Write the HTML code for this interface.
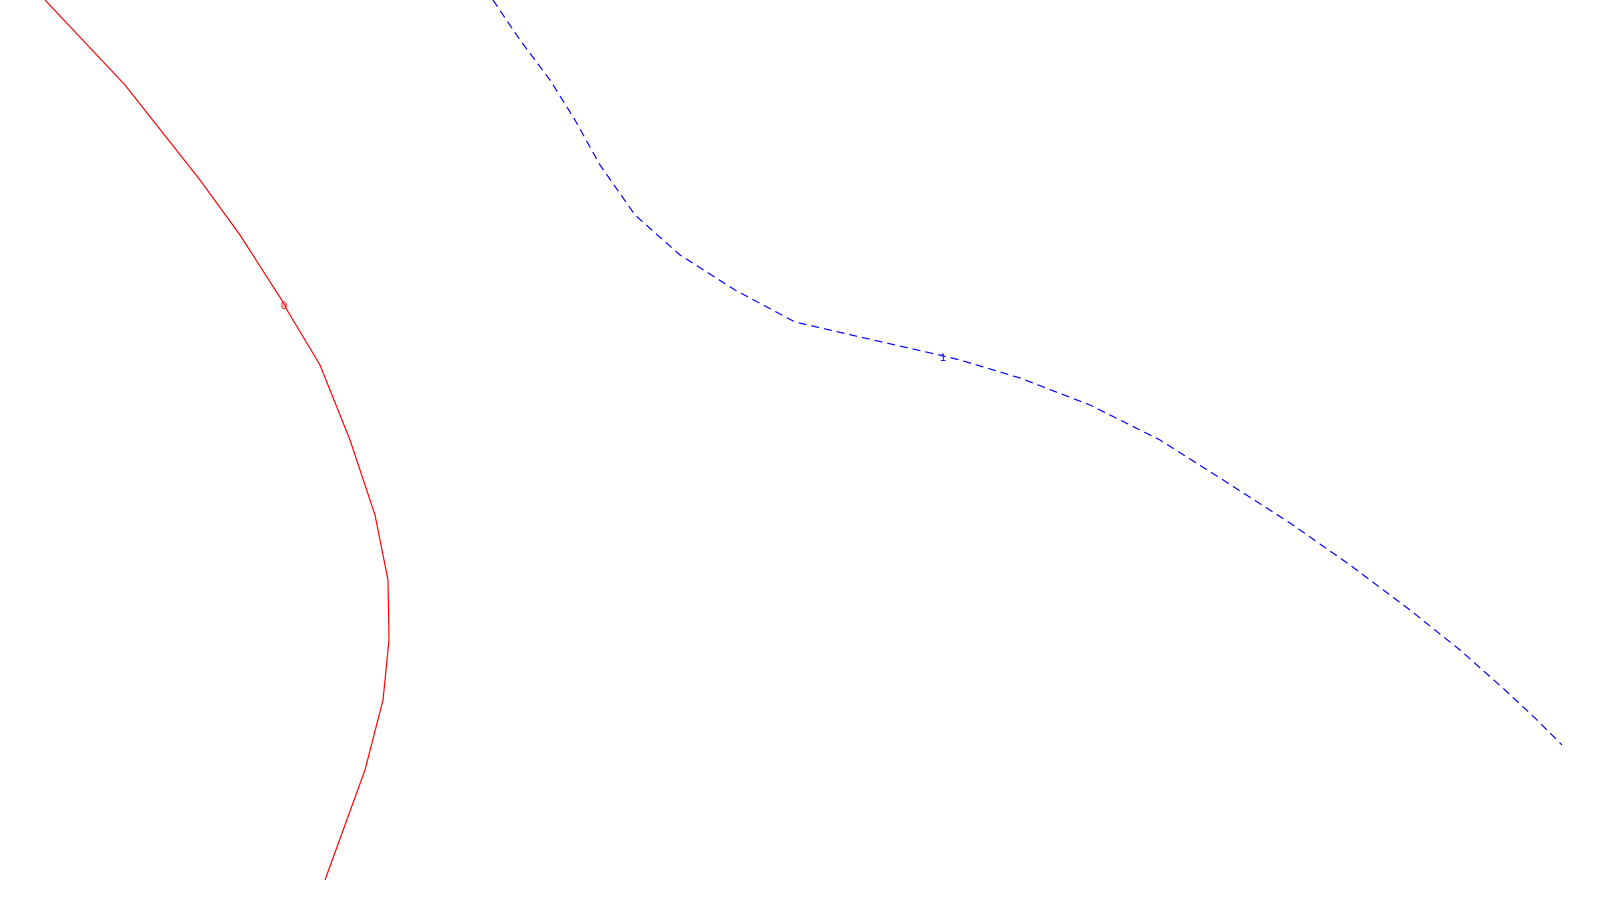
<!DOCTYPE html>
<html><head><meta charset="utf-8"><style>
html,body{margin:0;padding:0;background:#fff;width:1600px;height:900px;overflow:hidden}
svg{display:block}
text{font-family:"Liberation Sans",sans-serif;font-size:11px}
</style></head><body>
<svg id="chart" width="1600" height="900" viewBox="0 0 1600 900"></svg>
<script>
// contour level labels
const levels = ["0", "1"];
// contour 0 (data units: x 0..16, y 0..9, y downward)
const c0x = [0.45,1.25,2.00,2.40,2.83,2.87,3.20,3.50,3.75,3.88,3.89,3.83,3.65,3.45,3.25];
const c0y = [0.00,0.85,1.80,2.35,3.02,3.10,3.65,4.40,5.15,5.80,6.40,7.00,7.70,8.25,8.80];
// contour 1
const c1x = [4.93,5.20,5.50,5.75,6.00,6.35,6.80,7.35,7.95,8.60,9.35,9.60,10.20,10.90,11.60,12.20,12.90,13.50,14.10,14.60,15.05,15.35,15.62];
const c1y = [0.00,0.40,0.80,1.20,1.65,2.15,2.55,2.90,3.22,3.37,3.54,3.60,3.78,4.05,4.40,4.78,5.23,5.65,6.10,6.50,6.90,7.18,7.45];
const labelPos0 = [2.84, 3.05];
const labelPos1 = [9.43, 3.57];

const sx = v => v * 100;
const sy = v => v * 100;
const svg = document.getElementById('chart');
const NS = 'http://www.w3.org/2000/svg';
function draw(xs, ys, color, dash, name) {
  const p = document.createElementNS(NS, 'polyline');
  p.setAttribute('points', xs.map((x, i) => sx(x) + ',' + sy(ys[i])).join(' '));
  p.setAttribute('fill', 'none');
  p.setAttribute('stroke', color);
  p.setAttribute('stroke-width', '1.2');
  if (dash) p.setAttribute('stroke-dasharray', dash);
  
  
  svg.appendChild(p);
}
function label(pos, txt, color, name) {
  const t = document.createElementNS(NS, 'text');
  t.setAttribute('x', sx(pos[0]));
  t.setAttribute('y', sy(pos[1]) + 4);
  t.setAttribute('text-anchor', 'middle');
  t.setAttribute('fill', color);
  t.textContent = txt;
  
  
  svg.appendChild(t);
}
draw(c0x, c0y, '#ff0000', null, 'contour-line-0');
draw(c1x, c1y, '#0000ff', '8,5', 'contour-line-1');
label(labelPos0, levels[0], '#ff0000', 'contour-label-0');
label(labelPos1, levels[1], '#0000ff', 'contour-label-1');
</script>
</body></html>
